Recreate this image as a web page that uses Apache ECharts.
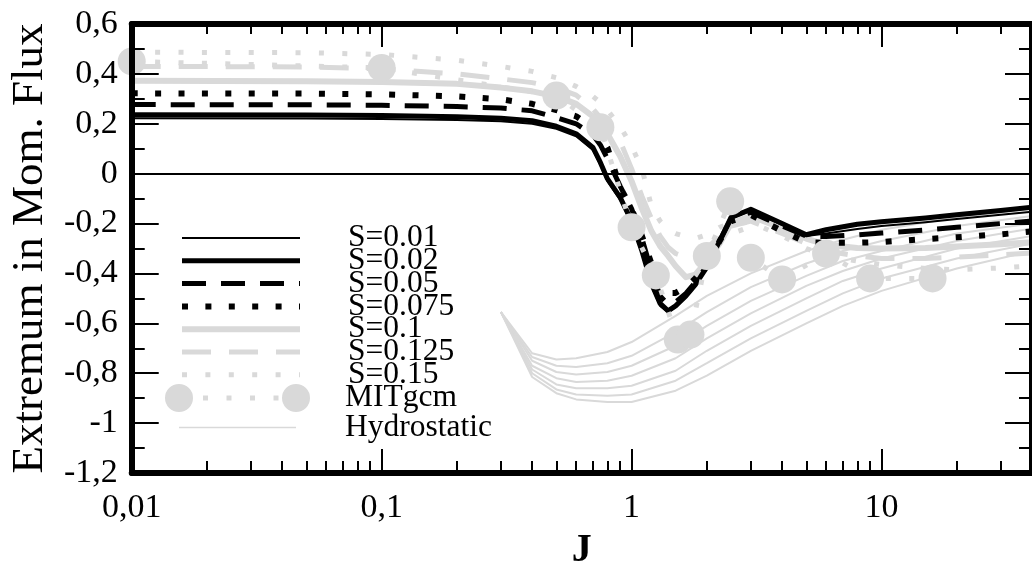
<!DOCTYPE html>
<html><head><meta charset="utf-8">
<script src="https://cdn.jsdelivr.net/npm/echarts@6/dist/echarts.min.js"></script>
<style>html,body{margin:0;padding:0;background:#fff}#c{width:1032px;height:576px}</style>
</head><body><div id="c"></div>
<script>
// ---------------- data ----------------
const J = [0.01,0.05,0.1,0.2,0.3,0.4,0.5,0.6,0.7,0.75,0.8,0.9,1,1.1,1.2,1.3,1.4,1.5,1.65,1.8,2,2.25,2.5,3,4,5,6,8,10,15,20,30,40];
const S001  = [0.222,0.221,0.219,0.215,0.21,0.2,0.18,0.15,0.095,0.035,-0.03,-0.105,-0.2,-0.32,-0.45,-0.53,-0.555,-0.535,-0.495,-0.45,-0.38,-0.275,-0.18,-0.148,-0.205,-0.25,-0.24,-0.222,-0.21,-0.195,-0.182,-0.165,-0.153];
const S002  = [0.236,0.235,0.233,0.228,0.222,0.212,0.19,0.16,0.105,0.045,-0.02,-0.095,-0.19,-0.31,-0.44,-0.52,-0.55,-0.53,-0.49,-0.445,-0.375,-0.27,-0.175,-0.143,-0.2,-0.245,-0.225,-0.203,-0.193,-0.178,-0.165,-0.148,-0.135];
const S005  = [0.277,0.276,0.274,0.269,0.263,0.252,0.225,0.2,0.155,0.115,0.06,-0.05,-0.14,-0.26,-0.39,-0.49,-0.525,-0.515,-0.48,-0.435,-0.37,-0.27,-0.18,-0.155,-0.21,-0.25,-0.252,-0.245,-0.238,-0.226,-0.215,-0.2,-0.19];
const S0075 = [0.322,0.321,0.318,0.31,0.298,0.28,0.255,0.23,0.185,0.155,0.105,-0.055,-0.14,-0.25,-0.36,-0.45,-0.478,-0.478,-0.455,-0.42,-0.36,-0.27,-0.19,-0.165,-0.23,-0.275,-0.277,-0.277,-0.274,-0.262,-0.255,-0.243,-0.232];
const S01   = [0.372,0.37,0.367,0.36,0.345,0.33,0.31,0.28,0.23,0.195,0.16,0.07,-0.03,-0.14,-0.23,-0.29,-0.33,-0.37,-0.415,-0.405,-0.35,-0.28,-0.2,-0.17,-0.22,-0.26,-0.285,-0.298,-0.3,-0.298,-0.292,-0.283,-0.275];
const S0125 = [0.43,0.428,0.42,0.4,0.38,0.365,0.345,0.315,0.26,0.225,0.19,0.13,0.02,-0.09,-0.18,-0.25,-0.295,-0.32,-0.335,-0.33,-0.3,-0.25,-0.21,-0.19,-0.24,-0.28,-0.31,-0.33,-0.34,-0.34,-0.335,-0.325,-0.318];
const S015  = [0.487,0.485,0.478,0.455,0.43,0.41,0.385,0.35,0.31,0.285,0.255,0.19,0.11,0.02,-0.13,-0.19,-0.225,-0.24,-0.252,-0.26,-0.245,-0.215,-0.2,-0.195,-0.25,-0.3,-0.33,-0.35,-0.365,-0.38,-0.385,-0.378,-0.37];

const J_MIT = [0.01,0.1,0.5,0.75,1,1.25,1.53,1.72,2,2.48,3,4,6,9,16];
const MIT   = [0.45,0.424,0.313,0.186,-0.215,-0.408,-0.665,-0.645,-0.33,-0.111,-0.337,-0.424,-0.32,-0.42,-0.42];

const J_H = [0.3,0.4,0.5,0.6,0.8,1,1.5,2,3,5,7,10,20,40];
const H1 = [-0.555,-0.72,-0.745,-0.74,-0.715,-0.675,-0.57,-0.49,-0.4,-0.31,-0.265,-0.225,-0.175,-0.14];
const H2 = [-0.555,-0.735,-0.77,-0.775,-0.76,-0.73,-0.635,-0.555,-0.455,-0.36,-0.31,-0.27,-0.21,-0.17];
const H3 = [-0.555,-0.75,-0.795,-0.805,-0.795,-0.77,-0.69,-0.61,-0.51,-0.41,-0.35,-0.31,-0.24,-0.2];
const H4 = [-0.555,-0.77,-0.82,-0.835,-0.83,-0.81,-0.74,-0.66,-0.56,-0.45,-0.39,-0.34,-0.27,-0.22];
const H5 = [-0.555,-0.785,-0.845,-0.86,-0.86,-0.85,-0.79,-0.71,-0.61,-0.5,-0.43,-0.38,-0.3,-0.25];
const H6 = [-0.555,-0.8,-0.865,-0.885,-0.89,-0.885,-0.83,-0.76,-0.66,-0.55,-0.48,-0.42,-0.34,-0.28];
const H7 = [-0.555,-0.815,-0.88,-0.905,-0.915,-0.915,-0.87,-0.81,-0.71,-0.6,-0.53,-0.47,-0.38,-0.31];

const X_MAJOR = [0.01,0.1,1,10];
const X_MINOR = [0.02,0.03,0.04,0.05,0.06,0.07,0.08,0.09,0.2,0.3,0.4,0.5,0.6,0.7,0.8,0.9,2,3,4,5,6,7,8,9,20,30];
const S_NAMES = ['S=0.01','S=0.02','S=0.05','S=0.075','S=0.1','S=0.125','S=0.15'];

// ---------------- chart ----------------
const GRAY = '#d9d9d9';
const SERIF = '"Liberation Serif","Times New Roman",Times,serif';
const pts = (xs, ys) => xs.map((x, i) => [x, ys[i]]);
const fmtX = v => String(+(+v).toPrecision(6)).replace('.', ',');
const fmtY = v => { const r = Math.round(v * 10) / 10; return r === 0 ? '0' : String(r).replace('.', ','); };

const STY = {
  'S=0.01':  {color:'#000', width:2, type:'solid'},
  'S=0.02':  {color:'#000', width:5, type:'solid'},
  'S=0.05':  {color:'#000', width:5, type:[24,15]},
  'S=0.075': {color:'#000', width:6, type:[6,17.4]},
  'S=0.1':   {color:GRAY, width:6, type:'solid'},
  'S=0.125': {color:GRAY, width:5, type:[29,18]},
  'S=0.15':  {color:GRAY, width:5, type:[5,18.4]}
};
const SVAL = {'S=0.01':S001,'S=0.02':S002,'S=0.05':S005,'S=0.075':S0075,'S=0.1':S01,'S=0.125':S0125,'S=0.15':S015};

const series = [];
[H1,H2,H3,H4,H5,H6,H7].forEach((h, k) => series.push({
  name:'Hydrostatic', type:'line', xAxisIndex:0, yAxisIndex:0, data:pts(J_H, h),
  symbol:'none', showSymbol:false, z:2,
  lineStyle:{color:GRAY, width:2}, itemStyle:{color:GRAY, borderWidth:0},
  markLine: k === 0 ? {silent:true, symbol:['none','none'], label:{show:false}, animation:false,
    lineStyle:{color:'#000', width:2, type:'solid'}, emphasis:{disabled:true}, data:[{yAxis:0}]} : undefined
}));
['S=0.15','S=0.125','S=0.1','S=0.075','S=0.05','S=0.02','S=0.01'].forEach(n => series.push({
  name:n, type:'line', xAxisIndex:0, yAxisIndex:0, data:pts(J, SVAL[n]),
  symbol:'none', showSymbol:false, z:3,
  lineStyle:{color:STY[n].color, width:STY[n].width, type:STY[n].type, cap:'butt', join:'round'},
  itemStyle:{color:STY[n].color, borderWidth:0}
}));
series.push({
  name:'MITgcm', type:'line', xAxisIndex:0, yAxisIndex:0, data:pts(J_MIT, MIT),
  symbol:'circle', symbolSize:28, showSymbol:true, z:4, clip:false,
  lineStyle:{color:GRAY, width:5, type:[5,18.4], cap:'butt'},
  itemStyle:{color:GRAY, borderWidth:0}
});

const MIT_ICON = 'path://M0,14A14,14 0 1,0 28,14A14,14 0 1,0 0,14Z M117,14A14,14 0 1,0 145,14A14,14 0 1,0 117,14Z M38,11.5h5v5h-5Z M61.5,11.5h5v5h-5Z M85,11.5h5v5h-5Z M108.5,11.5h5v5h-5Z';
const HYD_ICON = 'path://M0,0L0.05,0L0.05,0.05Z M14,13.2L131,13.2L131,14.8L14,14.8Z M145,28L144.95,28L144.95,27.95Z';

const axisBlack = {color:'#000', width:6};
const tickSty = {color:'#000', width:2};
const xBase = {type:'log', logBase:10, min:0.01, max:40, gridIndex:0, z:10, splitLine:{show:false}, minorTick:{show:false}, minorSplitLine:{show:false}};
const yBase = {type:'value', min:-1.2, max:0.6, interval:0.2, gridIndex:0, z:10, splitLine:{show:false}};
const LFONT = 31.5;

const option = {
  animation:false,
  backgroundColor:'#fff',
  grid:{left:125, top:24, width:915, height:456, containLabel:false},
  legend:[
    {data:S_NAMES.map(n => ({name:n, itemStyle:{opacity:0}, lineStyle:{width:STY[n].width, type:STY[n].type, color:STY[n].color}})),
     orient:'vertical', left:179, top:222, padding:0, itemWidth:118, itemHeight:14, itemGap:22.3 - LFONT, selectedMode:false,
     textStyle:{fontFamily:SERIF, fontSize:LFONT, color:'#000', padding:[0,0,0,43]}},
    {data:[{name:'MITgcm', icon:MIT_ICON}, {name:'Hydrostatic', icon:HYD_ICON}],
     orient:'vertical', left:165, top:382, padding:0, itemWidth:145, itemHeight:28, itemGap:29 - LFONT, selectedMode:false, symbolKeepAspect:false,
     itemStyle:{borderWidth:0},
     textStyle:{fontFamily:SERIF, fontSize:LFONT, color:'#000', padding:[0,0,0,30]}}
  ],
  xAxis:[
    Object.assign({}, xBase, {position:'bottom', name:'J', nameLocation:'middle', nameGap:58,
      nameTextStyle:{fontFamily:SERIF, fontSize:40, fontWeight:'bold', color:'#000'},
      axisLine:{show:true, onZero:false, lineStyle:axisBlack},
      axisTick:{show:true, inside:true, length:24, lineStyle:tickSty, customValues:X_MAJOR},
      axisLabel:{show:true, customValues:X_MAJOR, margin:18, fontFamily:SERIF, fontSize:34, color:'#000', formatter:fmtX}}),
    Object.assign({}, xBase, {position:'bottom', axisLine:{show:false, onZero:false},
      axisTick:{show:true, inside:true, length:12, lineStyle:tickSty, customValues:X_MINOR},
      axisLabel:{show:false}}),
    Object.assign({}, xBase, {position:'top', axisLine:{show:true, onZero:false, lineStyle:axisBlack},
      axisTick:{show:true, inside:true, length:23, lineStyle:tickSty, customValues:X_MAJOR},
      axisLabel:{show:false}}),
    Object.assign({}, xBase, {position:'top', axisLine:{show:false, onZero:false},
      axisTick:{show:true, inside:true, length:10, lineStyle:tickSty, customValues:X_MINOR},
      axisLabel:{show:false}})
  ],
  yAxis:[
    Object.assign({}, yBase, {position:'left', name:'Extremum in Mom. Flux', nameLocation:'middle', nameGap:68, nameRotate:90,
      nameTextStyle:{fontFamily:SERIF, fontSize:45, color:'#000'},
      axisLine:{show:true, onZero:false, lineStyle:axisBlack},
      axisTick:{show:true, inside:true, length:27, lineStyle:tickSty},
      minorTick:{show:true, splitNumber:2, length:13, lineStyle:tickSty},
      axisLabel:{show:true, margin:14, fontFamily:SERIF, fontSize:34, color:'#000', formatter:fmtY}}),
    Object.assign({}, yBase, {position:'right', axisLine:{show:true, onZero:false, lineStyle:axisBlack},
      axisTick:{show:true, inside:true, length:27, lineStyle:tickSty},
      minorTick:{show:true, splitNumber:2, length:13, lineStyle:tickSty},
      axisLabel:{show:false}})
  ],
  series:series
};
const chart = echarts.init(document.getElementById('c'), null, {renderer:'canvas'});
chart.setOption(option);
</script>
</body></html>
